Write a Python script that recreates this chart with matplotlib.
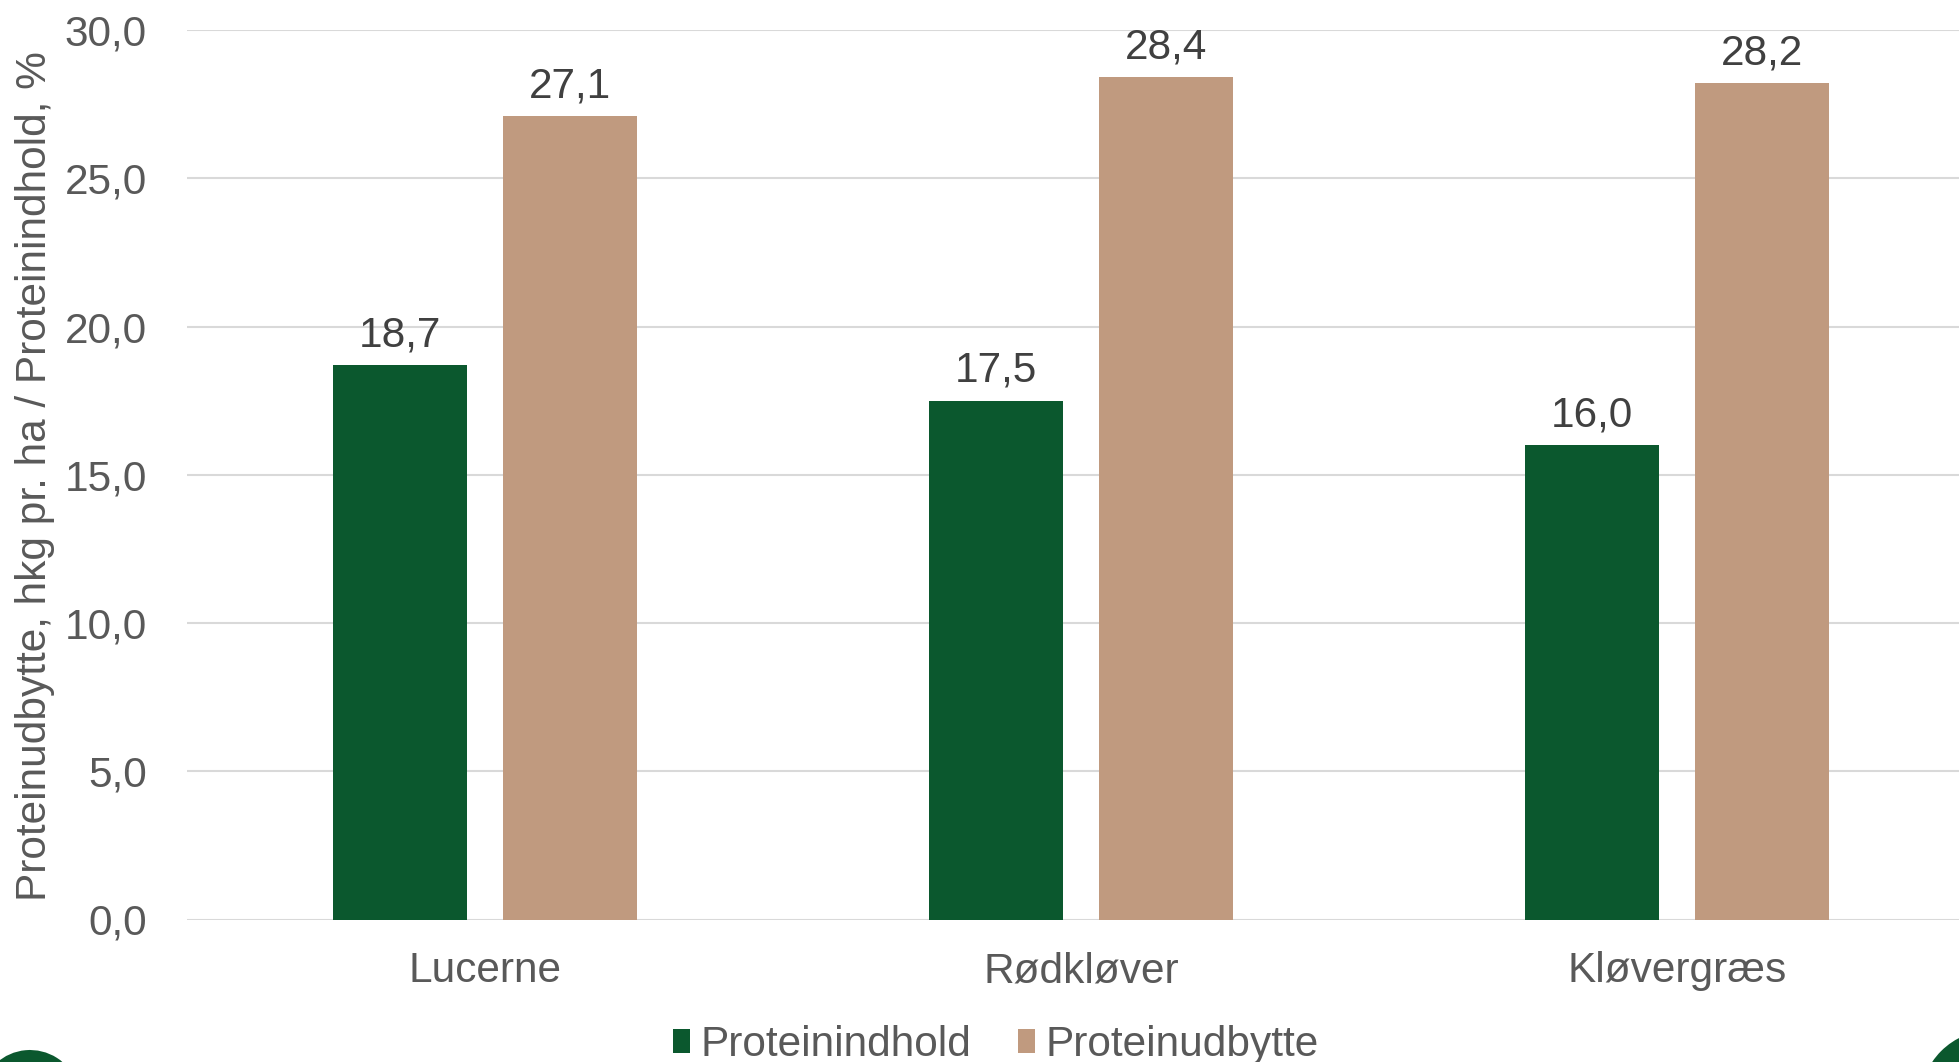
import matplotlib
matplotlib.use("Agg")
import matplotlib.pyplot as plt
from matplotlib.patches import Circle, Wedge
import numpy as np

categories = ["Lucerne", "Rødkløver", "Kløvergræs"]
proteinindhold = [18.7, 17.5, 16.0]
proteinudbytte = [27.1, 28.4, 28.2]
series_names = ["Proteinindhold", "Proteinudbytte"]
yticks = [0, 5, 10, 15, 20, 25, 30]

plt.rcParams['font.family'] = ['Liberation Sans', 'DejaVu Sans']

W, H = 1959, 1062
fig = plt.figure(figsize=(W/100, H/100), dpi=100)
left = 187 / W
bottom = 1 - 919.5 / H
top = 1 - 30 / H
span = 596 * 3 / W
ax = fig.add_axes([left, bottom, span, top - bottom])

green = "#0b582e"
tan = "#c09a7f"
txt = "#595959"
FS = 30.5

x = np.arange(len(categories))
bw = 0.225
off = 0.142
b1 = ax.bar(x - off, proteinindhold, bw, color=green, label=series_names[0], zorder=3)
b2 = ax.bar(x + off, proteinudbytte, bw, color=tan, label=series_names[1], zorder=3)

for bars, vals in ((b1, proteinindhold), (b2, proteinudbytte)):
    for r, v in zip(bars, vals):
        ax.annotate(f"{v:.1f}".replace(".", ","), (r.get_x() + r.get_width()/2, v),
                    xytext=(0, 7), textcoords="offset points", ha="center", va="bottom",
                    fontsize=FS, color="#404040")

ax.set_xlim(-0.5, 2.5)
ax.set_ylim(0, 30)
ax.set_yticks(yticks)
ax.set_yticklabels([f"{t:.1f}".replace(".", ",") for t in yticks])
ax.set_xticks(x)
ax.set_xticklabels(categories)
ax.tick_params(axis='y', length=0, pad=29, labelsize=FS, labelcolor=txt)
ax.tick_params(axis='x', length=0, pad=23, labelsize=FS, labelcolor=txt)
ax.grid(axis='y', color="#d9d9d9", linewidth=1.5, zorder=0)
for s in ax.spines.values():
    s.set_visible(False)

fig.text(35/W, 1 - 476/H, "Proteinudbytte, hkg pr. ha / Proteinindhold, %",
         rotation=90, ha="center", va="center", fontsize=FS, color=txt)

leg = fig.legend(handles=[b1, b2], labels=series_names, loc="center",
                 bbox_to_anchor=(996/W, 1 - 1045/H), ncol=2, frameon=False,
                 fontsize=FS, labelcolor=txt, handlelength=0.4, handleheight=0.5,
                 handletextpad=0.25, columnspacing=1.1, borderpad=0)

# partial logos at the lower corners (in inches from lower-left)
fig.patches.append(Circle((19.92, -0.40), 0.72, transform=fig.dpi_scale_trans,
                          facecolor=green, edgecolor="none"))
fig.patches.append(Wedge((0.30, -0.38), 0.50, 20, 170, width=0.17,
                         transform=fig.dpi_scale_trans, facecolor=green, edgecolor="none"))

fig.savefig("out.png", dpi=100, facecolor="white")
